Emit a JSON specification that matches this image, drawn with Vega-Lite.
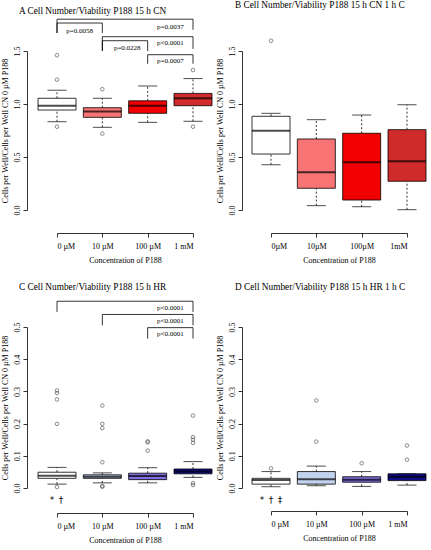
{
  "$schema": "https://vega.github.io/schema/vega-lite/v6.json",
  "padding": {"left": 1, "top": 1, "right": 0, "bottom": 0},
  "background": "white",
  "config": {
    "font": "Liberation Serif",
    "view": {"stroke": null},
    "scale": {"continuousPadding": 0},
    "axis": {"grid": false, "domainColor": "black", "tickColor": "black", "labelColor": "black", "titleColor": "black", "labelFont": "Liberation Serif", "titleFont": "Liberation Serif", "labelFontSize": 8, "titleFontSize": 8, "titleFontWeight": "normal", "tickSize": 4, "domainWidth": 0.8, "tickWidth": 0.8, "labelOverlap": false},
    "title": {"font": "Liberation Serif", "fontSize": 9.3, "fontWeight": "normal", "color": "black"},
    "text": {"font": "Liberation Serif"}
  },
  "datasets": {
    "boxA": [
      {"x": 1, "conc": "0 µM", "lo": 0.833, "q1": 0.943, "med": 0.984, "q3": 1.054, "hi": 1.13},
      {"x": 2, "conc": "10 µM", "lo": 0.78, "q1": 0.874, "med": 0.93, "q3": 0.965, "hi": 1.054},
      {"x": 3, "conc": "100 µM", "lo": 0.827, "q1": 0.912, "med": 0.984, "q3": 1.03, "hi": 1.17},
      {"x": 4, "conc": "1 mM", "lo": 0.837, "q1": 0.984, "med": 1.054, "q3": 1.1, "hi": 1.24}
    ],
    "outA": [
      {"x": 1, "v": 1.46}, {"x": 1, "v": 1.23}, {"x": 1, "v": 0.786},
      {"x": 2, "v": 1.14}, {"x": 2, "v": 0.72},
      {"x": 4, "v": 1.32}, {"x": 4, "v": 0.786}
    ],
    "brA": [
      {"x1": 1, "x2": 4, "top": 1.8, "l1": 1.67, "l2": 1.7, "label": "p=0.0037", "lx": 3.5, "ly": 1.73},
      {"x1": 1, "x2": 2, "top": 1.764, "l1": 1.67, "l2": 1.67, "label": "p=0.0058", "lx": 1.5, "ly": 1.69},
      {"x1": 2, "x2": 4, "top": 1.635, "l1": 1.5, "l2": 1.52, "label": "p<0.0001", "lx": 3.5, "ly": 1.575},
      {"x1": 2, "x2": 3, "top": 1.597, "l1": 1.5, "l2": 1.5, "label": "p=0.0228", "lx": 2.55, "ly": 1.53},
      {"x1": 3, "x2": 4, "top": 1.465, "l1": 1.38, "l2": 1.38, "label": "p=0.0007", "lx": 3.5, "ly": 1.41}
    ],
    "boxB": [
      {"x": 1, "conc": "0µM", "lo": 0.427, "q1": 0.528, "med": 0.748, "q3": 0.884, "hi": 0.912},
      {"x": 2, "conc": "10µM", "lo": 0.041, "q1": 0.205, "med": 0.356, "q3": 0.67, "hi": 0.852},
      {"x": 3, "conc": "100µM", "lo": 0.031, "q1": 0.094, "med": 0.45, "q3": 0.724, "hi": 0.896},
      {"x": 4, "conc": "1mM", "lo": 0.003, "q1": 0.271, "med": 0.459, "q3": 0.758, "hi": 0.993}
    ],
    "outB": [
      {"x": 1, "v": 1.597}
    ],
    "boxC": [
      {"x": 1, "conc": "0 µM", "lo": 0.012, "q1": 0.03, "med": 0.038, "q3": 0.049, "hi": 0.064},
      {"x": 2, "conc": "10 µM", "lo": 0.016, "q1": 0.03, "med": 0.035, "q3": 0.041, "hi": 0.047},
      {"x": 3, "conc": "100 µM", "lo": 0.016, "q1": 0.026, "med": 0.037, "q3": 0.046, "hi": 0.063},
      {"x": 4, "conc": "1 mM", "lo": 0.033, "q1": 0.044, "med": 0.051, "q3": 0.059, "hi": 0.082}
    ],
    "outC": [
      {"x": 1, "v": 0.303}, {"x": 1, "v": 0.295}, {"x": 1, "v": 0.275}, {"x": 1, "v": 0.199}, {"x": 1, "v": 0.003},
      {"x": 2, "v": 0.256}, {"x": 2, "v": 0.199}, {"x": 2, "v": 0.186}, {"x": 2, "v": 0.08}, {"x": 2, "v": 0.006}, {"x": 2, "v": 0.004},
      {"x": 3, "v": 0.145}, {"x": 3, "v": 0.142}, {"x": 3, "v": 0.116},
      {"x": 4, "v": 0.225}, {"x": 4, "v": 0.158}, {"x": 4, "v": 0.15}, {"x": 4, "v": 0.14}, {"x": 4, "v": 0.015}, {"x": 4, "v": 0.009}
    ],
    "brC": [
      {"x1": 1, "x2": 4, "top": 0.58, "l1": 0.547, "l2": 0.547, "label": "p<0.0001", "lx": 3.5, "ly": 0.558},
      {"x1": 2, "x2": 4, "top": 0.539, "l1": 0.505, "l2": 0.505, "label": "p<0.0001", "lx": 3.5, "ly": 0.518},
      {"x1": 3, "x2": 4, "top": 0.498, "l1": 0.464, "l2": 0.464, "label": "p<0.0001", "lx": 3.5, "ly": 0.477}
    ],
    "annC": [
      {"x": 0.89, "y": -0.038, "t": "*"},
      {"x": 1.09, "y": -0.038, "t": "†"}
    ],
    "boxD": [
      {"x": 1, "conc": "0 µM", "lo": 0.004, "q1": 0.012, "med": 0.025, "q3": 0.03, "hi": 0.051},
      {"x": 2, "conc": "10 µM", "lo": 0.007, "q1": 0.012, "med": 0.027, "q3": 0.051, "hi": 0.068},
      {"x": 3, "conc": "100 µM", "lo": 0.005, "q1": 0.018, "med": 0.026, "q3": 0.035, "hi": 0.051},
      {"x": 4, "conc": "1 mM", "lo": 0.009, "q1": 0.023, "med": 0.035, "q3": 0.044, "hi": 0.044}
    ],
    "outD": [
      {"x": 1, "v": 0.061},
      {"x": 2, "v": 0.272}, {"x": 2, "v": 0.144},
      {"x": 3, "v": 0.077},
      {"x": 4, "v": 0.132}, {"x": 4, "v": 0.088}
    ],
    "annD": [
      {"x": 0.8, "y": -0.038, "t": "*"},
      {"x": 1.0, "y": -0.038, "t": "†"},
      {"x": 1.2, "y": -0.038, "t": "‡"}
    ]
  },
  "resolve": {"scale": {"color": "independent"}},
  "bounds": "flush",
  "columns": 2,
  "spacing": {"row": 117, "column": 78},
  "concat": [
    {
      "title": {"text": "A Cell Number/Viability P188 15 h CN", "anchor": "start", "frame": "group", "dx": -38, "offset": 3},
      "width": 136, "height": 159,
      "data": {"name": "boxA"},
      "layer": [
        {"mark": {"type": "rule", "strokeDash": [2, 2], "strokeWidth": 0.8, "color": "black"},
         "encoding": {
           "x": {"field": "x", "type": "quantitative", "scale": {"domain": [1, 4], "nice": false, "zero": false, "padding": 0}, "axis": {"values": [1, 2, 3, 4], "tickCount": 4, "labelExpr": "['0 µM','10 µM','100 µM','1 mM'][datum.value-1]", "title": "Concentration of P188", "offset": 23, "labelPadding": 5, "titlePadding": 6}},
           "y": {"field": "lo", "type": "quantitative", "scale": {"domain": [0, 1.5], "nice": false, "zero": false, "padding": 0}, "axis": {"values": [0, 0.5, 1, 1.5], "tickCount": 4, "format": ".1f", "title": "Cells per Well/Cells per Well CN 0 µM P188", "offset": 30, "labelAngle": 270, "labelAlign": "center", "labelBaseline": "bottom", "labelPadding": 2, "titlePadding": 4, "labelOverlap": false}},
           "y2": {"field": "q1"}}},
        {"mark": {"type": "rule", "strokeDash": [2, 2], "strokeWidth": 0.8, "color": "black"},
         "encoding": {
           "x": {"field": "x", "type": "quantitative"},
           "y": {"field": "q3", "type": "quantitative"},
           "y2": {"field": "hi"}}},
        {"mark": {"type": "tick", "orient": "horizontal", "size": 19, "thickness": 1, "color": "black"},
         "encoding": {
           "x": {"field": "x", "type": "quantitative"},
           "y": {"field": "lo", "type": "quantitative"}}},
        {"mark": {"type": "tick", "orient": "horizontal", "size": 19, "thickness": 1, "color": "black"},
         "encoding": {
           "x": {"field": "x", "type": "quantitative"},
           "y": {"field": "hi", "type": "quantitative"}}},
        {"mark": {"type": "bar", "size": 38, "stroke": "black", "strokeWidth": 0.8},
         "encoding": {
           "x": {"field": "x", "type": "quantitative"},
           "y": {"field": "q1", "type": "quantitative"},
           "y2": {"field": "q3"},
           "color": {"field": "conc", "type": "nominal", "scale": {"domain": ["0 µM", "10 µM", "100 µM", "1 mM"], "range": ["#FFFFFF", "#F87474", "#F00000", "#D12A2A"]}, "legend": null}}},
        {"mark": {"type": "tick", "orient": "horizontal", "size": 38, "thickness": 2, "color": "black"},
         "encoding": {
           "x": {"field": "x", "type": "quantitative"},
           "y": {"field": "med", "type": "quantitative"}}},
        {"data": {"name": "outA"},
         "mark": {"type": "point", "shape": "circle", "filled": false, "size": 13, "strokeWidth": 0.8, "color": "#333333"},
         "encoding": {
           "x": {"field": "x", "type": "quantitative"},
           "y": {"field": "v", "type": "quantitative"}}},
        {"data": {"name": "brA"},
         "mark": {"type": "rule", "strokeWidth": 0.8, "color": "black"},
         "encoding": {
           "x": {"field": "x1", "type": "quantitative"},
           "x2": {"field": "x2"},
           "y": {"field": "top", "type": "quantitative"}}},
        {"data": {"name": "brA"},
         "mark": {"type": "rule", "strokeWidth": 0.8, "color": "black"},
         "encoding": {
           "x": {"field": "x1", "type": "quantitative"},
           "y": {"field": "top", "type": "quantitative"},
           "y2": {"field": "l1"}}},
        {"data": {"name": "brA"},
         "mark": {"type": "rule", "strokeWidth": 0.8, "color": "black"},
         "encoding": {
           "x": {"field": "x2", "type": "quantitative"},
           "y": {"field": "top", "type": "quantitative"},
           "y2": {"field": "l2"}}},
        {"data": {"name": "brA"},
         "mark": {"type": "text", "fontSize": 7, "align": "center", "baseline": "middle", "color": "black"},
         "encoding": {
           "x": {"field": "lx", "type": "quantitative"},
           "y": {"field": "ly", "type": "quantitative"},
           "text": {"field": "label"}}}
      ]
    },
    {
      "title": {"text": "B Cell Number/Viability P188 15 h CN 1 h C", "anchor": "start", "frame": "group", "dx": -36, "offset": 27},
      "width": 136, "height": 159,
      "data": {"name": "boxB"},
      "layer": [
        {"mark": {"type": "rule", "strokeDash": [2, 2], "strokeWidth": 0.8, "color": "black"},
         "encoding": {
           "x": {"field": "x", "type": "quantitative", "scale": {"domain": [1, 4], "nice": false, "zero": false, "padding": 0}, "axis": {"values": [1, 2, 3, 4], "tickCount": 4, "labelExpr": "['0µM','10µM','100µM','1mM'][datum.value-1]", "title": "Concentration of P188", "offset": 23, "labelPadding": 5, "titlePadding": 6}},
           "y": {"field": "lo", "type": "quantitative", "scale": {"domain": [0, 1.5], "nice": false, "zero": false, "padding": 0}, "axis": {"values": [0, 0.5, 1, 1.5], "tickCount": 4, "format": ".1f", "title": "Cells per Well/Cells per Well CN 0 µM P188", "offset": 29, "labelAngle": 270, "labelAlign": "center", "labelBaseline": "bottom", "labelPadding": 2, "titlePadding": 4, "labelOverlap": false}},
           "y2": {"field": "q1"}}},
        {"mark": {"type": "rule", "strokeDash": [2, 2], "strokeWidth": 0.8, "color": "black"},
         "encoding": {
           "x": {"field": "x", "type": "quantitative"},
           "y": {"field": "q3", "type": "quantitative"},
           "y2": {"field": "hi"}}},
        {"mark": {"type": "tick", "orient": "horizontal", "size": 19, "thickness": 1, "color": "black"},
         "encoding": {
           "x": {"field": "x", "type": "quantitative"},
           "y": {"field": "lo", "type": "quantitative"}}},
        {"mark": {"type": "tick", "orient": "horizontal", "size": 19, "thickness": 1, "color": "black"},
         "encoding": {
           "x": {"field": "x", "type": "quantitative"},
           "y": {"field": "hi", "type": "quantitative"}}},
        {"mark": {"type": "bar", "size": 38, "stroke": "black", "strokeWidth": 0.8},
         "encoding": {
           "x": {"field": "x", "type": "quantitative"},
           "y": {"field": "q1", "type": "quantitative"},
           "y2": {"field": "q3"},
           "color": {"field": "conc", "type": "nominal", "scale": {"domain": ["0µM", "10µM", "100µM", "1mM"], "range": ["#FFFFFF", "#F87474", "#F00000", "#D12A2A"]}, "legend": null}}},
        {"mark": {"type": "tick", "orient": "horizontal", "size": 38, "thickness": 2, "color": "black"},
         "encoding": {
           "x": {"field": "x", "type": "quantitative"},
           "y": {"field": "med", "type": "quantitative"}}},
        {"data": {"name": "outB"},
         "mark": {"type": "point", "shape": "circle", "filled": false, "size": 13, "strokeWidth": 0.8, "color": "#333333"},
         "encoding": {
           "x": {"field": "x", "type": "quantitative"},
           "y": {"field": "v", "type": "quantitative"}}}
      ]
    },
    {
      "title": {"text": "C Cell Number/Viability P188 15 h HR", "anchor": "start", "frame": "group", "dx": -38, "offset": 9},
      "width": 136, "height": 161,
      "data": {"name": "boxC"},
      "layer": [
        {"mark": {"type": "rule", "strokeDash": [2, 2], "strokeWidth": 0.8, "color": "black"},
         "encoding": {
           "x": {"field": "x", "type": "quantitative", "scale": {"domain": [1, 4], "nice": false, "zero": false, "padding": 0}, "axis": {"values": [1, 2, 3, 4], "tickCount": 4, "labelExpr": "['0 µM','10 µM','100 µM','1 mM'][datum.value-1]", "title": "Concentration of P188", "offset": 25, "labelPadding": 5, "titlePadding": 6}},
           "y": {"field": "lo", "type": "quantitative", "scale": {"domain": [0, 0.5], "nice": false, "zero": false, "padding": 0}, "axis": {"values": [0, 0.1, 0.2, 0.3, 0.4, 0.5], "tickCount": 6, "format": ".1f", "title": "Cells per Well/Cells per Well CN 0 µM P188", "offset": 30, "labelAngle": 270, "labelAlign": "center", "labelBaseline": "bottom", "labelPadding": 2, "titlePadding": 4, "labelOverlap": false}},
           "y2": {"field": "q1"}}},
        {"mark": {"type": "rule", "strokeDash": [2, 2], "strokeWidth": 0.8, "color": "black"},
         "encoding": {
           "x": {"field": "x", "type": "quantitative"},
           "y": {"field": "q3", "type": "quantitative"},
           "y2": {"field": "hi"}}},
        {"mark": {"type": "tick", "orient": "horizontal", "size": 19, "thickness": 1, "color": "black"},
         "encoding": {
           "x": {"field": "x", "type": "quantitative"},
           "y": {"field": "lo", "type": "quantitative"}}},
        {"mark": {"type": "tick", "orient": "horizontal", "size": 19, "thickness": 1, "color": "black"},
         "encoding": {
           "x": {"field": "x", "type": "quantitative"},
           "y": {"field": "hi", "type": "quantitative"}}},
        {"mark": {"type": "bar", "size": 38, "stroke": "black", "strokeWidth": 0.8},
         "encoding": {
           "x": {"field": "x", "type": "quantitative"},
           "y": {"field": "q1", "type": "quantitative"},
           "y2": {"field": "q3"},
           "color": {"field": "conc", "type": "nominal", "scale": {"domain": ["0 µM", "10 µM", "100 µM", "1 mM"], "range": ["#FFFFFF", "#C3D2EE", "#7F6FE0", "#0E0E86"]}, "legend": null}}},
        {"mark": {"type": "tick", "orient": "horizontal", "size": 38, "thickness": 2, "color": "black"},
         "encoding": {
           "x": {"field": "x", "type": "quantitative"},
           "y": {"field": "med", "type": "quantitative"}}},
        {"data": {"name": "outC"},
         "mark": {"type": "point", "shape": "circle", "filled": false, "size": 13, "strokeWidth": 0.8, "color": "#333333"},
         "encoding": {
           "x": {"field": "x", "type": "quantitative"},
           "y": {"field": "v", "type": "quantitative"}}},
        {"data": {"name": "brC"},
         "mark": {"type": "rule", "strokeWidth": 0.8, "color": "black"},
         "encoding": {
           "x": {"field": "x1", "type": "quantitative"},
           "x2": {"field": "x2"},
           "y": {"field": "top", "type": "quantitative"}}},
        {"data": {"name": "brC"},
         "mark": {"type": "rule", "strokeWidth": 0.8, "color": "black"},
         "encoding": {
           "x": {"field": "x1", "type": "quantitative"},
           "y": {"field": "top", "type": "quantitative"},
           "y2": {"field": "l1"}}},
        {"data": {"name": "brC"},
         "mark": {"type": "rule", "strokeWidth": 0.8, "color": "black"},
         "encoding": {
           "x": {"field": "x2", "type": "quantitative"},
           "y": {"field": "top", "type": "quantitative"},
           "y2": {"field": "l2"}}},
        {"data": {"name": "brC"},
         "mark": {"type": "text", "fontSize": 7, "align": "center", "baseline": "middle", "color": "black"},
         "encoding": {
           "x": {"field": "lx", "type": "quantitative"},
           "y": {"field": "ly", "type": "quantitative"},
           "text": {"field": "label"}}},
        {"data": {"name": "annC"},
         "mark": {"type": "text", "fontSize": 9, "font": "DejaVu Sans", "align": "center", "baseline": "middle", "fill": "#000000"},
         "encoding": {
           "x": {"field": "x", "type": "quantitative"},
           "y": {"field": "y", "type": "quantitative"},
           "text": {"field": "t"}}}
      ]
    },
    {
      "title": {"text": "D Cell Number/Viability P188 15 h HR 1 h C", "anchor": "start", "frame": "group", "dx": -36, "offset": 30},
      "width": 136, "height": 161,
      "data": {"name": "boxD"},
      "layer": [
        {"mark": {"type": "rule", "strokeDash": [2, 2], "strokeWidth": 0.8, "color": "black"},
         "encoding": {
           "x": {"field": "x", "type": "quantitative", "scale": {"domain": [1, 4], "nice": false, "zero": false, "padding": 0}, "axis": {"values": [1, 2, 3, 4], "tickCount": 4, "labelExpr": "['0 µM','10 µM','100 µM','1 mM'][datum.value-1]", "title": "Concentration of P188", "offset": 23, "labelPadding": 5, "titlePadding": 6}},
           "y": {"field": "lo", "type": "quantitative", "scale": {"domain": [0, 0.5], "nice": false, "zero": false, "padding": 0}, "axis": {"values": [0, 0.1, 0.2, 0.3, 0.4, 0.5], "tickCount": 6, "format": ".1f", "title": "Cells per Well/Cells per Well CN 0 µM P188", "offset": 29, "labelAngle": 270, "labelAlign": "center", "labelBaseline": "bottom", "labelPadding": 2, "titlePadding": 4, "labelOverlap": false}},
           "y2": {"field": "q1"}}},
        {"mark": {"type": "rule", "strokeDash": [2, 2], "strokeWidth": 0.8, "color": "black"},
         "encoding": {
           "x": {"field": "x", "type": "quantitative"},
           "y": {"field": "q3", "type": "quantitative"},
           "y2": {"field": "hi"}}},
        {"mark": {"type": "tick", "orient": "horizontal", "size": 19, "thickness": 1, "color": "black"},
         "encoding": {
           "x": {"field": "x", "type": "quantitative"},
           "y": {"field": "lo", "type": "quantitative"}}},
        {"mark": {"type": "tick", "orient": "horizontal", "size": 19, "thickness": 1, "color": "black"},
         "encoding": {
           "x": {"field": "x", "type": "quantitative"},
           "y": {"field": "hi", "type": "quantitative"}}},
        {"mark": {"type": "bar", "size": 38, "stroke": "black", "strokeWidth": 0.8},
         "encoding": {
           "x": {"field": "x", "type": "quantitative"},
           "y": {"field": "q1", "type": "quantitative"},
           "y2": {"field": "q3"},
           "color": {"field": "conc", "type": "nominal", "scale": {"domain": ["0 µM", "10 µM", "100 µM", "1 mM"], "range": ["#FFFFFF", "#C3D2EE", "#7F6FE0", "#0E0E86"]}, "legend": null}}},
        {"mark": {"type": "tick", "orient": "horizontal", "size": 38, "thickness": 2, "color": "black"},
         "encoding": {
           "x": {"field": "x", "type": "quantitative"},
           "y": {"field": "med", "type": "quantitative"}}},
        {"data": {"name": "outD"},
         "mark": {"type": "point", "shape": "circle", "filled": false, "size": 13, "strokeWidth": 0.8, "color": "#333333"},
         "encoding": {
           "x": {"field": "x", "type": "quantitative"},
           "y": {"field": "v", "type": "quantitative"}}},
        {"data": {"name": "annD"},
         "mark": {"type": "text", "fontSize": 9, "font": "DejaVu Sans", "align": "center", "baseline": "middle", "fill": "#000000"},
         "encoding": {
           "x": {"field": "x", "type": "quantitative"},
           "y": {"field": "y", "type": "quantitative"},
           "text": {"field": "t"}}}
      ]
    }
  ]
}
